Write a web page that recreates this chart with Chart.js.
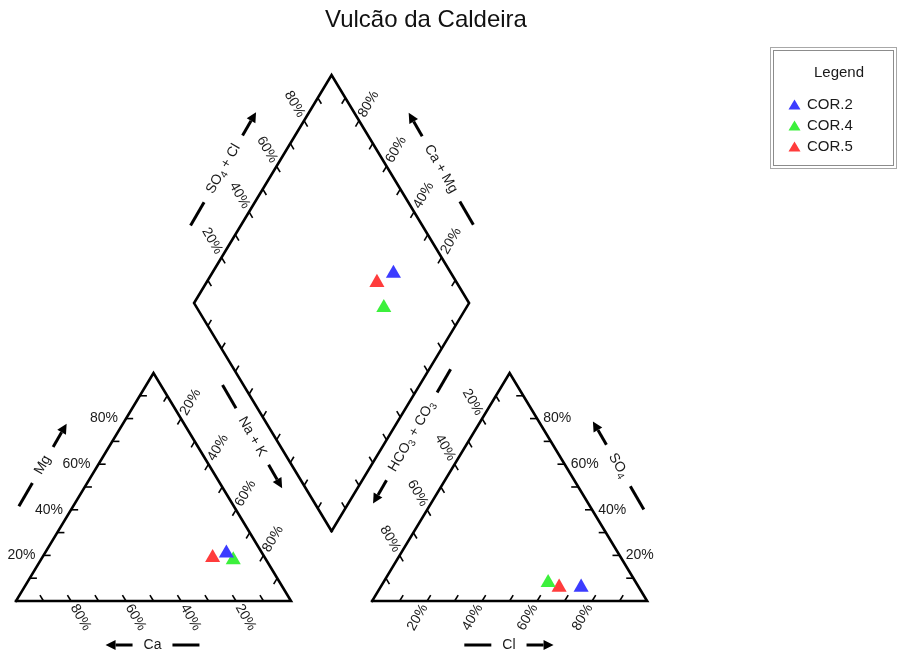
<!DOCTYPE html>
<html><head><meta charset="utf-8">
<script src="https://cdn.jsdelivr.net/npm/chart.js@4/dist/chart.umd.min.js"></script>
<style>html,body{margin:0;padding:0;background:#fff}canvas{display:block}</style>
</head><body>
<canvas id="c" width="897" height="655"></canvas>
<script>
// ---------------- data ----------------
const chartTitle = 'Vulcão da Caldeira';
const sampleNames = ['COR.2', 'COR.4', 'COR.5'];
const sampleColors = ['#3c3cff', '#3cf03c', '#ff3c3c'];
// cations, % meq
const Ca  = [13, 12, 19];
const Mg  = [21, 18, 19];
const NaK = [66, 70, 62];
// anions, % meq
const HCO3 = [21, 32, 29];
const SO4  = [6, 8, 6];
const Cl   = [73, 60, 65];
const labelTicks = [20, 40, 60, 80];
const labelTexts = ['20%', '40%', '60%', '80%'];
const minorTicks = [10, 20, 30, 40, 50, 60, 70, 80, 90];

// ---------------- piper geometry ----------------
const GAP = 29.5, R3 = Math.sqrt(3) / 2, DIA_LIFT = 1.0;
function cation(ca, mg, na) { const t = ca + mg + na; return { x: 100 * (na + mg / 2) / t, y: 100 * mg * R3 / t }; }
function anion(hc, so, cl) { const t = hc + so + cl; return { x: 100 + GAP + 100 * (cl + so / 2) / t, y: 100 * so * R3 / t }; }
function diamond(s, c) { return { x: 100 + GAP / 2 + (s - c) / 2, y: GAP * R3 + DIA_LIFT + (s + c) * R3 }; }

const frameLeft = [cation(100,0,0), cation(0,0,100), cation(0,100,0), cation(100,0,0)];
const frameRight = [anion(100,0,0), anion(0,0,100), anion(0,100,0), anion(100,0,0)];
const frameDia = [diamond(0,0), diamond(100,0), diamond(100,100), diamond(0,100), diamond(0,0)];

function frameDs(pts) {
  return { data: pts, showLine: true, borderColor: '#000', borderWidth: 2.6, pointRadius: 0,
    fill: false, tension: 0, borderJoinStyle: 'miter', borderCapStyle: 'square', order: 10 };
}
const sampleDs = sampleNames.map((n, i) => {
  const cat = Ca[i] + Mg[i] + NaK[i], an = HCO3[i] + SO4[i] + Cl[i];
  const s = 100 * (SO4[i] + Cl[i]) / an, c = 100 * (Ca[i] + Mg[i]) / cat;
  return {
    label: n,
    data: [cation(Ca[i], Mg[i], NaK[i]), anion(HCO3[i], SO4[i], Cl[i]), diamond(s, c)],
    pointStyle: 'triangle', pointRadius: 8.7, pointHoverRadius: 8.7,
    backgroundColor: sampleColors[i], borderColor: sampleColors[i], borderWidth: 0,
    showLine: false, order: 1
  };
});

// edges: f(p) gives point at p%, dir = tick direction (data units), labels
const edges = [
  { f: p => cation(100 - p, p, 0), dir: [1, 0], ang: 0, align: 'right', gap: 8, lab: true },
  { f: p => cation(p, 0, 100 - p), dir: [-0.5, R3], ang: 60, align: 'left', gap: 5, lab: true },
  { f: p => cation(0, 100 - p, p), dir: [-0.5, -R3], ang: -60, align: 'left', gap: 5, lab: true },
  { f: p => anion(p, 100 - p, 0), dir: [0.5, -R3], ang: 60, align: 'right', gap: 5, lab: true },
  { f: p => anion(100 - p, 0, p), dir: [0.5, R3], ang: -60, align: 'right', gap: 5, lab: true },
  { f: p => anion(0, p, 100 - p), dir: [-1, 0], ang: 0, align: 'left', gap: 6, lab: true },
  { f: p => diamond(p, 100), dir: [0.5, -R3], ang: 60, align: 'right', gap: 5, lab: true },
  { f: p => diamond(100, p), dir: [-0.5, -R3], ang: -60, align: 'left', gap: 5, lab: true },
  { f: p => diamond(0, 100 - p), dir: [0.5, R3], lab: false },
  { f: p => diamond(100 - p, 0), dir: [-0.5, R3], lab: false }
];

// axis titles: segments (sub = subscript), reference edge, offset from edge midpoint (px)
const axisTitles = [
  { seg: [['Mg']], a: cation(100,0,0), b: cation(0,100,0), off: [-42, -22], ang: -60, fwd: true },
  { seg: [['Ca']], a: cation(100,0,0), b: cation(0,0,100), off: [-1, 44], ang: 0, fwd: false },
  { seg: [['Na + K']], a: diamond(0,100), b: diamond(0,0), off: [-10.5, 19.5], ang: 60, fwd: true },
  { seg: [['SO'], ['4', 1], [' + Cl']], a: diamond(0,100), b: diamond(100,100), off: [-39.5, -20.2], ang: -60, fwd: true },
  { seg: [['Ca + Mg']], a: diamond(100,0), b: diamond(100,100), off: [40.7, -20.2], ang: 60, fwd: false },
  { seg: [['HCO'], ['3', 1], [' + CO'], ['3', 1]], a: diamond(0,0), b: diamond(100,0), off: [11.5, 19.3], ang: -60, fwd: false },
  { seg: [['Cl']], a: anion(100,0,0), b: anion(0,0,100), off: [-0.7, 44], ang: 0, fwd: true },
  { seg: [['SO'], ['4', 1]], a: anion(0,0,100), b: anion(0,100,0), off: [40, -21.5], ang: 60, fwd: false }
];

const FONT = '"Liberation Sans", Arial, sans-serif';
const TXT = '#1a1a1a';

function richWidth(ctx, seg) {
  let w = 0;
  seg.forEach(s => { ctx.font = (s[1] ? '10px ' : '14px ') + FONT; w += ctx.measureText(s[0]).width; });
  return w;
}
function drawRich(ctx, seg, x0, y) {
  let x = x0;
  seg.forEach(s => {
    ctx.font = (s[1] ? '10px ' : '14px ') + FONT;
    ctx.fillText(s[0], x, s[1] ? y + 4 : y);
    x += ctx.measureText(s[0]).width;
  });
}

const piperPlugin = {
  id: 'piper',
  beforeDatasetsDraw(chart) {
    const ctx = chart.ctx, sx = chart.scales.x, sy = chart.scales.y;
    const P = p => ({ x: sx.getPixelForValue(p.x), y: sy.getPixelForValue(p.y) });
    ctx.save();
    ctx.strokeStyle = '#000'; ctx.lineWidth = 1.6; ctx.lineCap = 'butt';
    edges.forEach(e => {
      minorTicks.forEach(v => {
        const p = e.f(v);
        const a = P(p), b = P({ x: p.x + e.dir[0] * 2.6, y: p.y + e.dir[1] * 2.6 });
        ctx.beginPath(); ctx.moveTo(a.x, a.y); ctx.lineTo(b.x, b.y); ctx.stroke();
      });
    });
    ctx.fillStyle = TXT; ctx.font = '14px ' + FONT; ctx.textBaseline = 'middle';
    edges.filter(e => e.lab).forEach(e => {
      labelTicks.forEach((v, k) => {
        const a = P(e.f(v));
        ctx.save();
        ctx.translate(a.x, a.y); ctx.rotate(e.ang * Math.PI / 180);
        ctx.textAlign = e.align;
        ctx.fillText(labelTexts[k], e.align === 'left' ? e.gap : -e.gap, 0);
        ctx.restore();
      });
    });
    axisTitles.forEach(t => {
      const a = P(t.a), b = P(t.b);
      const cx = (a.x + b.x) / 2 + t.off[0], cy = (a.y + b.y) / 2 + t.off[1];
      ctx.save();
      ctx.translate(cx, cy); ctx.rotate(t.ang * Math.PI / 180);
      const w = richWidth(ctx, t.seg);
      ctx.textAlign = 'left'; ctx.textBaseline = 'middle'; ctx.fillStyle = TXT;
      drawRich(ctx, t.seg, -w / 2, 0);
      const g = 11, L = 27;
      const dashSide = t.fwd ? -1 : 1, arrowSide = -dashSide;
      ctx.strokeStyle = '#000'; ctx.lineWidth = 3; ctx.fillStyle = '#000';
      ctx.beginPath();
      ctx.moveTo(dashSide * (w / 2 + g), 0); ctx.lineTo(dashSide * (w / 2 + g + L), 0); ctx.stroke();
      const x0 = arrowSide * (w / 2 + g), x1 = arrowSide * (w / 2 + g + L);
      const hx = x1 - arrowSide * 10;
      ctx.beginPath(); ctx.moveTo(x0, 0); ctx.lineTo(hx, 0); ctx.stroke();
      ctx.beginPath(); ctx.moveTo(x1, 0); ctx.lineTo(hx, -5); ctx.lineTo(hx, 5); ctx.closePath(); ctx.fill();
      ctx.restore();
    });
    ctx.restore();
  },
  afterDraw(chart) {
    const ctx = chart.ctx;
    ctx.save();
    ctx.fillStyle = '#111'; ctx.font = '24px ' + FONT; ctx.textAlign = 'center'; ctx.textBaseline = 'middle';
    ctx.fillText(chartTitle, 426, 20);
    ctx.lineWidth = 1;
    ctx.strokeStyle = '#a8a8a8'; ctx.strokeRect(770.5, 47.5, 126, 121);
    ctx.strokeStyle = '#8c8c8c'; ctx.strokeRect(773.5, 50.5, 120, 115);
    ctx.fillStyle = TXT; ctx.font = '15px ' + FONT;
    ctx.fillText('Legend', 839, 73);
    ctx.textAlign = 'left';
    sampleNames.forEach((n, i) => {
      const y = 105 + 21 * i;
      ctx.fillStyle = sampleColors[i];
      ctx.beginPath(); ctx.moveTo(794.5, y - 5.5); ctx.lineTo(800.5, y + 4.5); ctx.lineTo(788.5, y + 4.5); ctx.closePath(); ctx.fill();
      ctx.fillStyle = TXT;
      ctx.fillText(n, 807, y);
    });
    ctx.restore();
  }
};

new Chart(document.getElementById('c'), {
  type: 'scatter',
  data: { datasets: [frameDs(frameLeft), frameDs(frameRight), frameDs(frameDia), ...sampleDs] },
  options: {
    responsive: false, animation: false, events: [],
    layout: { padding: 0, autoPadding: false },
    scales: {
      x: { type: 'linear', min: -16 / 2.75, max: (897 - 16) / 2.75, display: false },
      y: { type: 'linear', min: -54 / 2.633, max: 601 / 2.633, display: false }
    },
    plugins: { legend: { display: false }, title: { display: false }, tooltip: { enabled: false } }
  },
  plugins: [piperPlugin]
});
</script>
</body></html>
